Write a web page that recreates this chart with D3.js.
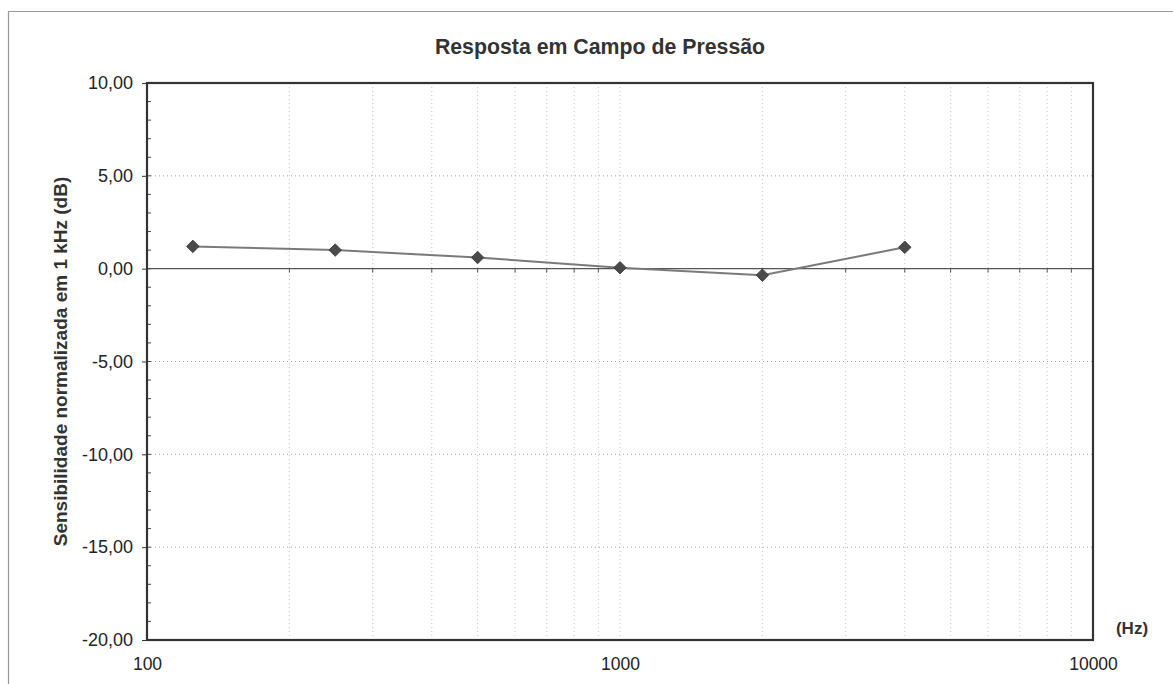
<!DOCTYPE html>
<html>
<head>
<meta charset="utf-8">
<script src="https://cdn.jsdelivr.net/npm/d3@7"></script>
<style>
  body { margin: 0; background: #fff; }
  svg { display: block; font-family: Arial, "Liberation Sans", sans-serif; }
</style>
</head>
<body>
<div id="container"></div>
<script>
// Data
const frequencies = [125, 250, 500, 1000, 2000, 4000];
const sensitivity = [1.2, 1.0, 0.6, 0.05, -0.35, 1.15];
const yTicks = [10, 5, 0, -5, -10, -15, -20];
const xTicks = [100, 1000, 10000];
const titleText = "Resposta em Campo de Pressão";
const yLabelText = "Sensibilidade normalizada em 1 kHz (dB)";
const xUnitText = "(Hz)";

const width = 1173, height = 684;
const margin = {top: 83, right: 80, bottom: 44, left: 147};

const svg = d3.select("#container")
  .append("svg")
  .attr("width", width)
  .attr("height", height);

// outer chart frame (only top and left edges are visible in the scan)
svg.append("path")
  .attr("d", `M8.5,${height}V11.5H${width}`)
  .attr("fill", "none")
  .attr("stroke", "#999")
  .attr("stroke-width", 1.2);

const x = d3.scaleLog()
  .domain([100, 10000])
  .range([margin.left, width - margin.right]);

const y = d3.scaleLinear()
  .domain([-20, 10])
  .range([height - margin.bottom, margin.top]);

// minor positions on the log axis
const minorX = [];
for (const decade of [100, 1000]) {
  for (let k = 2; k <= 9; k++) minorX.push(decade * k);
}

// grid
svg.append("g")
  .selectAll("line")
  .data(minorX.concat([1000]))
  .join("line")
  .attr("x1", d => x(d)).attr("x2", d => x(d))
  .attr("y1", y(10)).attr("y2", y(-20))
  .attr("stroke", "#c4c4c4")
  .attr("stroke-width", 1)
  .attr("stroke-dasharray", "1,3");

svg.append("g")
  .selectAll("line")
  .data(yTicks.filter(d => d !== 10 && d !== -20 && d !== 0))
  .join("line")
  .attr("x1", x(100)).attr("x2", x(10000))
  .attr("y1", d => y(d)).attr("y2", d => y(d))
  .attr("stroke", "#aaa")
  .attr("stroke-width", 1)
  .attr("stroke-dasharray", "1,3");

// zero line (category axis) with its tick marks
svg.append("line")
  .attr("x1", x(100)).attr("x2", x(10000))
  .attr("y1", y(0)).attr("y2", y(0))
  .attr("stroke", "#555")
  .attr("stroke-width", 1.2);

svg.append("g")
  .selectAll("line")
  .data(minorX.concat([1000]))
  .join("line")
  .attr("x1", d => x(d)).attr("x2", d => x(d))
  .attr("y1", y(0)).attr("y2", y(0) + 4)
  .attr("stroke", "#555")
  .attr("stroke-width", 1);

// y axis: major ticks outside, minor ticks inside
const fmt = d => d3.format(".2f")(d).replace(".", ",").replace("\u2212", "-");

const yAxis = d3.axisLeft(y)
  .tickValues(yTicks)
  .tickSize(5)
  .tickFormat(fmt);

const yAxisG = svg.append("g")
  .attr("transform", `translate(${margin.left},0)`)
  .call(yAxis);
yAxisG.select(".domain").remove();
yAxisG.selectAll(".tick line").attr("stroke", "#333");
yAxisG.selectAll(".tick text")
  .attr("x", -14)
  .attr("fill", "#222")
  .style("font-size", "18px");

svg.append("g")
  .selectAll("line")
  .data(d3.range(-19, 10))
  .join("line")
  .attr("x1", x(100)).attr("x2", x(100) + 4)
  .attr("y1", d => y(d)).attr("y2", d => y(d))
  .attr("stroke", "#444")
  .attr("stroke-width", 1);

// plot area border
svg.append("rect")
  .attr("x", x(100))
  .attr("y", y(10))
  .attr("width", x(10000) - x(100))
  .attr("height", y(-20) - y(10))
  .attr("fill", "none")
  .attr("stroke", "#333")
  .attr("stroke-width", 2.2);

// x tick labels
const xAxis = d3.axisBottom(x)
  .tickValues(xTicks)
  .tickSize(0)
  .tickFormat(d3.format("d"));

const xAxisG = svg.append("g")
  .attr("transform", `translate(0,${y(-20)})`)
  .call(xAxis);
xAxisG.select(".domain").remove();
xAxisG.selectAll(".tick text")
  .attr("dy", "1.1em")
  .attr("y", 11)
  .attr("fill", "#222")
  .style("font-size", "17.5px");

// series
const points = frequencies.map((f, i) => ({f, v: sensitivity[i]}));

svg.append("path")
  .datum(points)
  .attr("fill", "none")
  .attr("stroke", "#7a7a7a")
  .attr("stroke-width", 2)
  .attr("d", d3.line().x(d => x(d.f)).y(d => y(d.v)));

svg.append("g")
  .selectAll("path")
  .data(points)
  .join("path")
  .attr("transform", d => `translate(${x(d.f)},${y(d.v)})`)
  .attr("d", d3.symbol(d3.symbolDiamond2, 100))
  .attr("fill", "#4a4a4a")
  .attr("stroke", "#333")
  .attr("stroke-width", 0.8);

// titles
svg.append("text")
  .attr("x", 600)
  .attr("y", 54)
  .attr("text-anchor", "middle")
  .attr("fill", "#333")
  .style("font-size", "21.3px")
  .style("font-weight", "bold")
  .text(titleText);

svg.append("text")
  .attr("transform", `translate(67,${(y(10) + y(-20)) / 2}) rotate(-90)`)
  .attr("text-anchor", "middle")
  .attr("fill", "#333")
  .style("font-size", "19px")
  .style("font-weight", "bold")
  .text(yLabelText);

svg.append("text")
  .attr("x", 1132)
  .attr("y", 634)
  .attr("text-anchor", "middle")
  .attr("fill", "#333")
  .style("font-size", "17px")
  .style("font-weight", "bold")
  .text(xUnitText);
</script>
</body>
</html>
